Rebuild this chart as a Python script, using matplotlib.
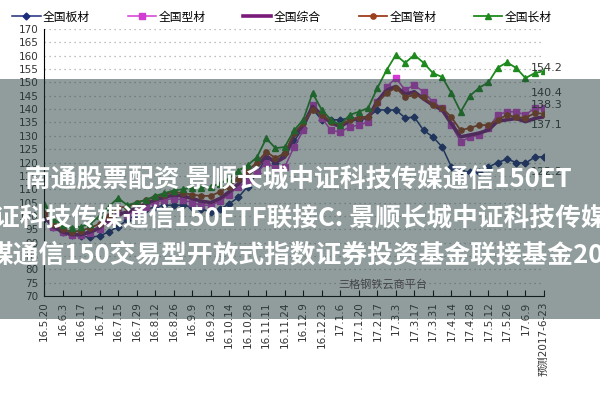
import matplotlib
matplotlib.use("Agg")
import matplotlib.pyplot as plt
from matplotlib.patches import Rectangle

plt.rcParams['font.family'] = ['DejaVu Sans', 'Noto Sans CJK SC']

# weekly points, labels every second week
tick_labels = ['16.5.20', '16.6.3', '16.6.17', '16.7.1', '16.7.15', '16.7.29', '16.8.12',
               '16.8.26', '16.9.9', '16.9.23', '16.10.14', '16.10.28', '16.11.11', '16.11.24',
               '16.12.9', '16.12.23', '17.1.6', '17.1.20', '17.2.17', '17.3.3', '17.3.17',
               '17.3.31', '17.4.14', '17.4.28', '17.5.12', '17.5.26', '17.6.9', '预测2017-6-23']

banchai = [99, 96, 94, 93, 92.5, 92, 92.5, 94, 96, 98.5, 100.5, 102.5, 103.3, 104, 104,
           104, 103.3, 102.5, 101.5, 102.5, 104.5, 107, 111, 116, 121.7, 120, 123.5, 128,
           133, 140, 136, 136, 136, 136.7, 136, 137, 139.7, 139.7, 139.7, 136.7, 137, 132,
           129.6, 125.8, 118.3, 117, 116.4, 116.5, 118.3, 120, 121.3, 120, 119.8, 122, 122.2]
xingcai = [100, 96, 94, 93, 93, 93.5, 95, 98, 101.5, 100.5, 102, 103.5, 105, 106, 106.5,
           106, 105, 104, 104, 105.5, 108, 111, 113, 116, 120, 118, 118.3, 125.8,
           132, 141.5, 136.7, 132, 131.4, 133.3, 134, 135.2, 142.7, 148.3, 151.6, 147.2,
           149, 146.4, 142.7, 140.4, 134, 127.7, 129.6, 130.3, 133, 137.8, 139, 139,
           137.8, 140.4, 140.4]
zonghe = [100, 96, 94, 93, 93, 94, 95.5, 98.5, 100.5, 101.5, 103, 104.5, 106, 107, 107.8,
          107.5, 106.5, 105.5, 105, 106.5, 109, 112, 115.3, 118.5, 122.5, 120, 122, 130,
          134, 141, 137.8, 134.8, 133.5, 135.5, 136.7, 136.7, 143, 147, 148.5, 145.5,
          146.5, 143.8, 141.5, 139.7, 134.5, 129.6, 130.3, 131, 132.2, 135.5, 136, 136.5,
          135.3, 136.5, 137.1]
guancai = [101, 97, 95, 94, 94.5, 95.5, 97, 100, 103, 103.5, 105, 106, 107, 108, 109,
           108.5, 108, 107.5, 107.5, 109, 111, 114, 117, 120, 124, 121.7, 123.5, 131,
           134.8, 139.7, 137.8, 135.2, 134, 136, 136.7, 137, 142.3, 146, 148, 144.5, 145.3,
           144.5, 141.5, 140.4, 137, 132, 133, 134, 134, 136, 137.8, 137, 136.7, 138.5, 138.3]
changcai = [104.5, 99, 96.5, 95.5, 96, 97, 100, 103.5, 106.7, 104, 105, 106, 107.5, 108.5,
            109.5, 110, 110.5, 110.5, 111, 112, 114, 117, 119, 122, 129, 125.4, 125.8,
            132, 136, 146, 139.7, 136, 134, 137.8, 139, 140.4, 147.9, 154.6, 160.3, 157.3,
            160.3, 157.3, 153.5, 152, 146, 139, 145, 148, 150, 155.5, 157.5, 155.4, 151.6,
            153.5, 154.2]

end_labels = ['154.2', '140.4', '138.3', '137.1', '122.2']
end_label_y = [155.5, 146, 141.5, 134, 116.5]

x = list(range(len(banchai)))

fig = plt.figure(figsize=(6, 4), dpi=100)
ax = fig.add_axes([0.0733, 0.26, 0.8334, 0.6675])

ax.plot(x, banchai, color='#1c2c7c', marker='D', ms=3.5, lw=1.1, label='全国板材')
ax.plot(x, xingcai, color='#d23cd2', marker='s', ms=4.5, lw=1.1, label='全国型材')
ax.plot(x, zonghe, color='#7a1a7a', lw=2.6, label='全国综合')
ax.plot(x, guancai, color='#9c3f1c', marker='o', ms=3.8, lw=1.3, label='全国管材')
ax.plot(x, changcai, color='#1e8a1e', marker='^', ms=5, lw=1.3, label='全国长材')

for t, v in zip(end_labels, end_label_y):
    ax.text(52.6, v, t, fontsize=8, color='#333333', va='center', ha='left', clip_on=False)

ax.set_xlim(0, 54)
ax.set_ylim(70, 170)
ax.set_yticks(range(70, 171, 5))
ax.set_xticks(range(0, 55, 2))
ax.set_xticklabels(tick_labels, rotation=90, fontsize=7.5, color='#333333')
ax.tick_params(axis='y', labelsize=7.5, labelcolor='#333333', length=0, pad=4)
ax.tick_params(axis='x', direction='in', length=4, pad=4)
ax.grid(axis='y', linestyle=(0, (1, 3)), color='#aaaaaa', lw=0.9)
ax.spines['top'].set_visible(False)
ax.spines['right'].set_visible(False)

fig.legend(loc='upper center', bbox_to_anchor=(0.47, 1.0), ncol=5, frameon=False,
           handlelength=2.4, columnspacing=3.2, handletextpad=0.2,
           prop={'family': ['Noto Sans CJK SC'], 'size': 8.5})

# overlay band with watermark text
fig.patches.append(Rectangle((0, 0.2025), 1, 0.6, transform=fig.transFigure,
                             facecolor=(0.14, 0.24, 0.24), alpha=0.5, zorder=5))
wm = dict(family=['Noto Sans CJK SC'], fontsize=18.5, weight='bold', color='white',
          va='center', ha='left', zorder=6)
fig.text(25 / 600, 1 - 179 / 400, '南通股票配资 景顺长城中证科技传媒通信150ET', **wm)
fig.text(-6 / 600, 1 - 218 / 400, '证科技传媒通信150ETF联接C: 景顺长城中证科技传媒', **wm)
fig.text(-13 / 600, 1 - 256 / 400, '媒通信150交易型开放式指数证券投资基金联接基金20', **wm)
fig.text(338 / 600, 1 - 284 / 400, '三格钢铁云商平台', family=['Noto Sans CJK SC'],
         fontsize=8, color='#444444', va='center', zorder=6)

fig.savefig('out.png', dpi=100)
